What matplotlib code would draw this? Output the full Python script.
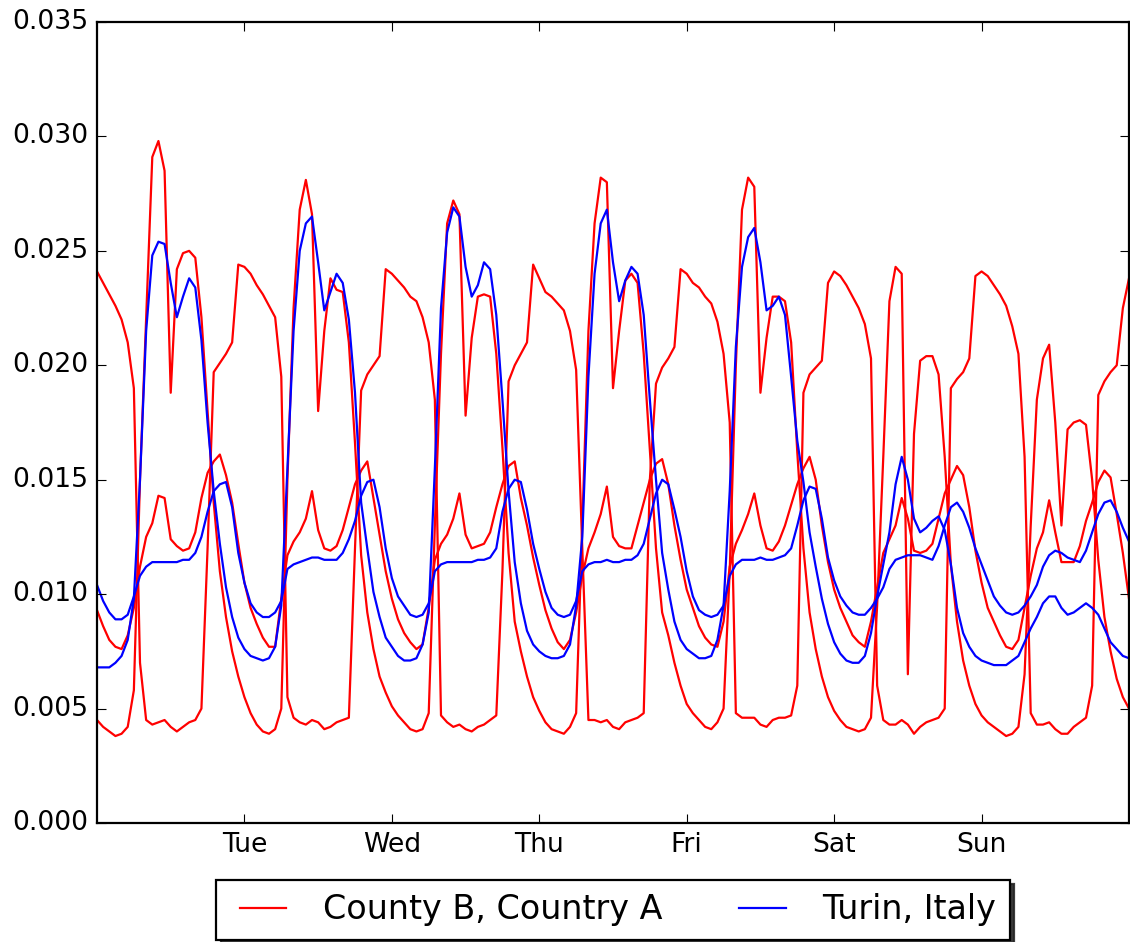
import matplotlib.pyplot as plt
import numpy as np

# hourly share of weekly activity, Monday 00:00 through the following Monday 00:00
day_names = ['Tue', 'Wed', 'Thu', 'Fri', 'Sat', 'Sun']

county_b_1 = [
    .0241, .0236, .0231, .0226, .0220, .0210, .0190, .0070, .0045, .0043, .0044, .0045,
    .0042, .0040, .0042, .0044, .0045, .0050, .0120, .0197, .0201, .0205, .0210, .0244,  # Mon
    .0243, .0240, .0235, .0231, .0226, .0221, .0195, .0055, .0046, .0044, .0043, .0045,
    .0044, .0041, .0042, .0044, .0045, .0046, .0120, .0189, .0196, .0200, .0204, .0242,  # Tue
    .0240, .0237, .0234, .0230, .0228, .0221, .0210, .0185, .0047, .0044, .0042, .0043,
    .0041, .0040, .0042, .0043, .0045, .0047, .0110, .0193, .0200, .0205, .0210, .0244,  # Wed
    .0238, .0232, .0230, .0227, .0224, .0215, .0198, .0120, .0045, .0045, .0044, .0045,
    .0042, .0041, .0044, .0045, .0046, .0048, .0150, .0192, .0199, .0203, .0208, .0242,  # Thu
    .0240, .0236, .0234, .0230, .0227, .0219, .0205, .0175, .0048, .0046, .0046, .0046,
    .0043, .0042, .0045, .0046, .0046, .0047, .0060, .0188, .0196, .0199, .0202, .0236,  # Fri
    .0241, .0239, .0235, .0230, .0225, .0218, .0203, .0060, .0045, .0043, .0043, .0045,
    .0043, .0039, .0042, .0044, .0045, .0046, .0050, .0190, .0194, .0197, .0203, .0239,  # Sat
    .0241, .0239, .0235, .0231, .0226, .0217, .0205, .0160, .0048, .0043, .0043, .0044,
    .0041, .0039, .0039, .0042, .0044, .0046, .0060, .0187, .0193, .0197, .0200, .0225,  # Sun
    .0238,
]

county_b_2 = [
    .0045, .0042, .0040, .0038, .0039, .0042, .0058, .0150, .0220, .0291, .0298, .0285,
    .0188, .0242, .0249, .0250, .0247, .0221, .0180, .0140, .0110, .0090, .0075, .0064,  # Mon
    .0055, .0048, .0043, .0040, .0039, .0041, .0050, .0150, .0225, .0268, .0281, .0266,
    .0180, .0215, .0238, .0233, .0232, .0210, .0166, .0117, .0092, .0076, .0064, .0057,  # Tue
    .0051, .0047, .0044, .0041, .0040, .0041, .0048, .0130, .0205, .0262, .0272, .0266,
    .0178, .0212, .0230, .0231, .0230, .0205, .0164, .0118, .0088, .0075, .0064, .0055,  # Wed
    .0049, .0044, .0041, .0040, .0039, .0042, .0048, .0130, .0215, .0262, .0282, .0280,
    .0190, .0215, .0237, .0240, .0236, .0205, .0163, .0120, .0092, .0082, .0070, .0060,  # Thu
    .0052, .0048, .0045, .0042, .0041, .0044, .0050, .0110, .0200, .0268, .0282, .0278,
    .0188, .0212, .0230, .0230, .0228, .0210, .0162, .0120, .0092, .0076, .0064, .0055,  # Fri
    .0049, .0045, .0042, .0041, .0040, .0041, .0046, .0095, .0160, .0228, .0243, .0240,
    .0065, .0170, .0202, .0204, .0204, .0196, .0160, .0113, .0088, .0071, .0060, .0052,  # Sat
    .0047, .0044, .0042, .0040, .0038, .0039, .0042, .0065, .0130, .0185, .0203, .0209,
    .0175, .0130, .0172, .0175, .0176, .0174, .0150, .0115, .0090, .0075, .0063, .0055,  # Sun
    .0050,
]

county_b_3 = [
    .0093, .0086, .0080, .0077, .0076, .0082, .0094, .0112, .0125, .0131, .0143, .0142,
    .0124, .0121, .0119, .0120, .0127, .0142, .0153, .0158, .0161, .0152, .0140, .0122,  # Mon
    .0105, .0094, .0087, .0081, .0077, .0077, .0098, .0117, .0123, .0127, .0133, .0145,
    .0128, .0120, .0119, .0121, .0128, .0138, .0148, .0154, .0158, .0142, .0126, .0110,  # Tue
    .0098, .0089, .0083, .0079, .0076, .0078, .0094, .0115, .0122, .0126, .0133, .0144,
    .0126, .0120, .0121, .0122, .0127, .0138, .0148, .0156, .0158, .0142, .0130, .0116,  # Wed
    .0104, .0093, .0085, .0079, .0076, .0080, .0092, .0108, .0120, .0127, .0135, .0147,
    .0125, .0121, .0120, .0120, .0130, .0140, .0150, .0157, .0159, .0148, .0130, .0115,  # Thu
    .0102, .0094, .0086, .0081, .0078, .0077, .0088, .0112, .0122, .0128, .0135, .0144,
    .0130, .0120, .0119, .0123, .0130, .0139, .0148, .0155, .0160, .0150, .0130, .0114,  # Fri
    .0102, .0094, .0088, .0082, .0079, .0077, .0088, .0103, .0118, .0124, .0130, .0142,
    .0133, .0119, .0118, .0119, .0122, .0133, .0144, .0150, .0156, .0152, .0138, .0119,  # Sat
    .0105, .0094, .0088, .0082, .0077, .0076, .0080, .0094, .0108, .0120, .0127, .0141,
    .0127, .0114, .0114, .0114, .0121, .0132, .0140, .0149, .0154, .0151, .0135, .0118,  # Sun
    .0098,
]

turin_1 = [
    .0068, .0068, .0068, .0070, .0073, .0080, .0098, .0150, .0215, .0248, .0254, .0253,
    .0236, .0221, .0230, .0238, .0234, .0211, .0175, .0145, .0122, .0103, .0090, .0081,  # Mon
    .0076, .0073, .0072, .0071, .0072, .0077, .0095, .0155, .0215, .0250, .0262, .0265,
    .0245, .0224, .0232, .0240, .0236, .0220, .0188, .0140, .0120, .0101, .0090, .0081,  # Tue
    .0077, .0073, .0071, .0071, .0072, .0078, .0092, .0155, .0225, .0258, .0269, .0265,
    .0243, .0230, .0235, .0245, .0242, .0222, .0185, .0145, .0114, .0096, .0084, .0078,  # Wed
    .0075, .0073, .0072, .0072, .0073, .0078, .0095, .0125, .0195, .0240, .0262, .0268,
    .0245, .0228, .0237, .0243, .0240, .0222, .0185, .0150, .0118, .0102, .0088, .0080,  # Thu
    .0076, .0074, .0072, .0072, .0073, .0080, .0095, .0145, .0208, .0243, .0256, .0260,
    .0245, .0224, .0226, .0230, .0222, .0195, .0167, .0149, .0127, .0112, .0098, .0087,  # Fri
    .0079, .0074, .0071, .0070, .0070, .0073, .0083, .0099, .0113, .0127, .0148, .0160,
    .0150, .0133, .0127, .0129, .0132, .0134, .0128, .0113, .0094, .0083, .0077, .0073,  # Sat
    .0071, .0070, .0069, .0069, .0069, .0071, .0073, .0079, .0085, .0090, .0096, .0099,
    .0099, .0094, .0091, .0092, .0094, .0096, .0094, .0091, .0085, .0079, .0076, .0073,  # Sun
    .0072,
]

turin_2 = [
    .0104, .0097, .0092, .0089, .0089, .0091, .0099, .0108, .0112, .0114, .0114, .0114,
    .0114, .0114, .0115, .0115, .0118, .0125, .0136, .0145, .0148, .0149, .0138, .0118,  # Mon
    .0105, .0096, .0092, .0090, .0090, .0092, .0097, .0111, .0113, .0114, .0115, .0116,
    .0116, .0115, .0115, .0115, .0118, .0124, .0132, .0143, .0149, .0150, .0138, .0120,  # Tue
    .0107, .0099, .0095, .0091, .0090, .0091, .0096, .0110, .0113, .0114, .0114, .0114,
    .0114, .0114, .0115, .0115, .0116, .0120, .0136, .0146, .0150, .0149, .0137, .0122,  # Wed
    .0111, .0101, .0094, .0091, .0090, .0091, .0097, .0110, .0113, .0114, .0114, .0115,
    .0114, .0114, .0115, .0115, .0117, .0122, .0133, .0144, .0150, .0148, .0137, .0125,  # Thu
    .0110, .0099, .0093, .0091, .0090, .0091, .0095, .0108, .0113, .0115, .0115, .0115,
    .0116, .0115, .0115, .0116, .0117, .0120, .0130, .0141, .0147, .0146, .0133, .0116,  # Fri
    .0106, .0099, .0095, .0092, .0091, .0091, .0094, .0098, .0103, .0111, .0115, .0116,
    .0117, .0117, .0117, .0116, .0115, .0121, .0130, .0138, .0140, .0136, .0129, .0120,  # Sat
    .0113, .0106, .0099, .0095, .0092, .0091, .0092, .0095, .0099, .0104, .0112, .0117,
    .0119, .0118, .0116, .0115, .0114, .0119, .0127, .0135, .0140, .0141, .0136, .0129,  # Sun
    .0123,
]

hours = np.arange(len(county_b_1))

plt.style.use('classic')
fig = plt.figure(figsize=(1130 / 160, 942 / 160), dpi=160)
fig.patch.set_facecolor('white')
ax = fig.add_axes([97 / 1130, 119 / 942, 1032 / 1130, 801 / 942])

ax.plot(hours, county_b_1, color='r', label='County B, Country A')
ax.plot(hours, county_b_2, color='r', label='_nolegend_')
ax.plot(hours, county_b_3, color='r', label='_nolegend_')
ax.plot(hours, turin_1, color='b', label='Turin, Italy')
ax.plot(hours, turin_2, color='b', label='_nolegend_')

ax.set_xlim(0, 168)
ax.set_ylim(0, 0.035)
ax.set_xticks([24, 48, 72, 96, 120, 144])
ax.set_xticklabels(day_names)
ax.set_yticks([0, 0.005, 0.01, 0.015, 0.02, 0.025, 0.03, 0.035])
ax.set_yticklabels(['%.3f' % v for v in ax.get_yticks()])
ax.tick_params(labelsize=12)

leg = ax.legend(loc='upper center', bbox_to_anchor=(0.5, -0.071), ncol=2,
                borderaxespad=0, fontsize=15,
                shadow={'color': '0.15', 'alpha': 0.9})

fig.savefig('out.png', dpi=160, facecolor='white')
